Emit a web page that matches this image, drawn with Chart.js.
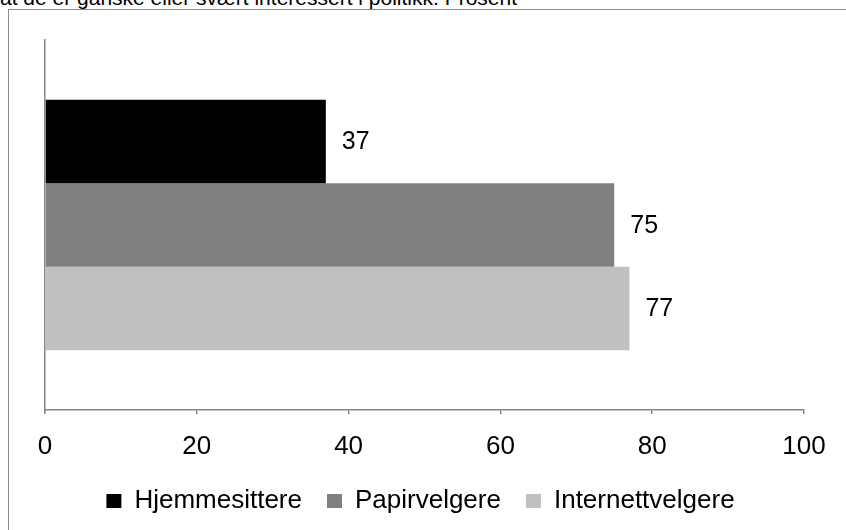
<!DOCTYPE html>
<html>
<head>
<meta charset="utf-8">
<script src="https://cdn.jsdelivr.net/npm/chart.js@4"></script>
<style>
  body { margin: 0; width: 846px; height: 530px; overflow: hidden; position: relative; background: #fff; font-family: "Liberation Sans", Arial, sans-serif; }
  #tittel { position: absolute; left: 0; top: -14px; font-size: 21px; color: #000; white-space: nowrap; }
  #ramme { position: absolute; left: 8px; top: 9px; width: 900px; height: 600px; border: 1.5px solid #8a8a8a; }
  #graf { position: absolute; left: 0; top: 0; }
</style>
</head>
<body>
<div id="tittel">at de er ganske eller svært interessert i politikk. Prosent</div>
<div id="ramme"></div>
<canvas id="graf" width="846" height="530"></canvas>
<script>
// Data
const kategorier = [''];
const serier = ['Hjemmesittere', 'Papirvelgere', 'Internettvelgere'];
const verdier = [37, 75, 77];
const farger = ['#000000', '#808080', '#c0c0c0'];
const xTicks = [0, 20, 40, 60, 80, 100];

const skrift = '"Liberation Sans", Arial, sans-serif';

// Plugin for å skrive verdiene til høyre for søylene
const verdiEtiketter = {
    id: 'verdiEtiketter',
    afterDatasetsDraw(chart) {
        const ctx = chart.ctx;
        ctx.save();
        ctx.font = '25px ' + skrift;
        ctx.fillStyle = '#000';
        ctx.textBaseline = 'middle';
        ctx.textAlign = 'left';
        chart.data.datasets.forEach((ds, i) => {
            const meta = chart.getDatasetMeta(i);
            meta.data.forEach((bar, j) => {
                ctx.fillText(ds.data[j], bar.x + 16, bar.y + 1);
            });
        });
        ctx.restore();
    }
};

const ctx = document.getElementById('graf').getContext('2d');
new Chart(ctx, {
    type: 'bar',
    data: {
        labels: kategorier,
        datasets: serier.map((navn, i) => ({
            label: navn,
            data: [verdier[i]],
            backgroundColor: farger[i],
            borderWidth: 0,
            barPercentage: 1,
            categoryPercentage: 0.677
        }))
    },
    options: {
        indexAxis: 'y',
        responsive: false,
        animation: false,
        layout: {
            padding: { top: 40, right: 42, left: 37, bottom: 6 }
        },
        scales: {
            x: {
                min: 0,
                max: 100,
                afterBuildTicks: (axis) => { axis.ticks = xTicks.map(v => ({ value: v })); },
                afterFit: (axis) => { axis.height = 53; },
                grid: { display: true, drawOnChartArea: false, tickLength: 4, color: '#868686', lineWidth: 1.5 },
                border: { display: true, color: '#868686', width: 1.5 },
                ticks: { color: '#000', padding: 17, font: { size: 26, family: skrift } }
            },
            y: {
                grid: { display: false },
                border: { display: true, color: '#868686', width: 1.5 },
                ticks: { display: false }
            }
        },
        plugins: {
            legend: {
                position: 'bottom',
                labels: {
                    boxWidth: 15,
                    boxHeight: 14,
                    padding: 25,
                    color: '#000',
                    font: { size: 26, family: skrift }
                }
            },
            tooltip: { enabled: false }
        }
    },
    plugins: [verdiEtiketter]
});
</script>
</body>
</html>
